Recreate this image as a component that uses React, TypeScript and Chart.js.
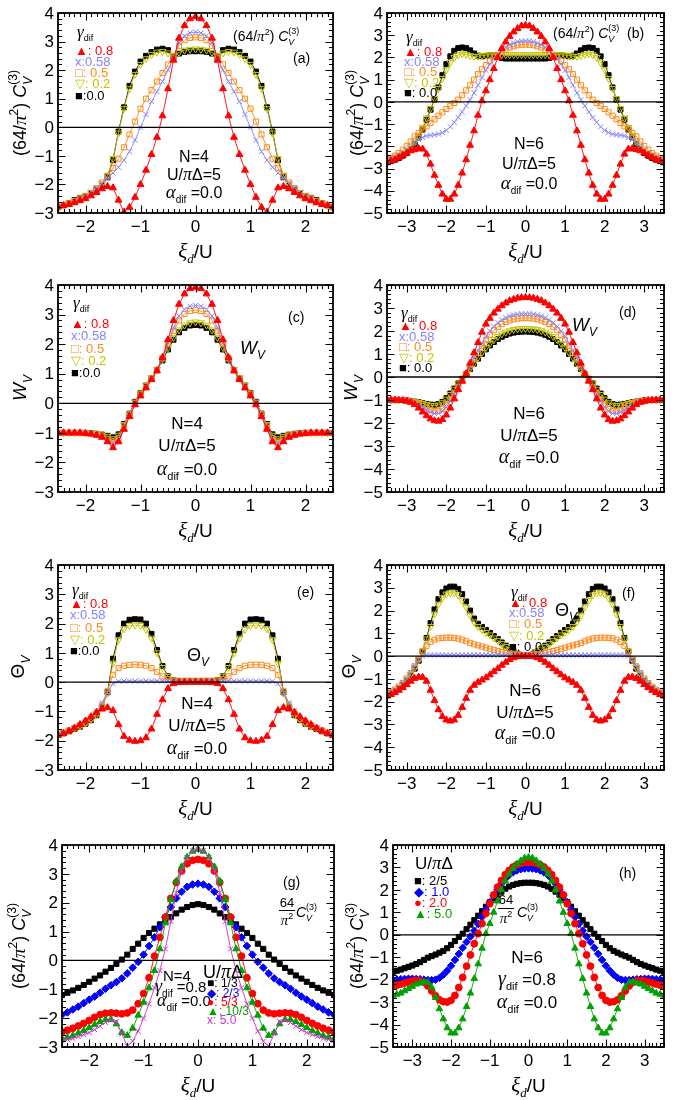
import React, { useEffect, useRef } from "react";
import { Chart, registerables } from "chart.js";

Chart.register(...registerables);

// ---------- abscissae: xi_d / U ----------
const XI_N4 = [-2.5, -2.4, -2.3, -2.2, -2.1, -2.0, -1.9, -1.8, -1.7, -1.6, -1.5, -1.4, -1.3, -1.2, -1.1, -1.0, -0.9, -0.8, -0.7, -0.6, -0.5, -0.4, -0.3, -0.2, -0.1, 0, 0.1, 0.2, 0.3, 0.4, 0.5, 0.6, 0.7, 0.8, 0.9, 1.0, 1.1, 1.2, 1.3, 1.4, 1.5, 1.6, 1.7, 1.8, 1.9, 2.0, 2.1, 2.2, 2.3, 2.4, 2.5];
const XI_N6 = [-3.5, -3.4, -3.3, -3.2, -3.1, -3.0, -2.9, -2.8, -2.7, -2.6, -2.5, -2.4, -2.3, -2.2, -2.1, -2.0, -1.9, -1.8, -1.7, -1.6, -1.5, -1.4, -1.3, -1.2, -1.1, -1.0, -0.9, -0.8, -0.7, -0.6, -0.5, -0.4, -0.3, -0.2, -0.1, 0, 0.1, 0.2, 0.3, 0.4, 0.5, 0.6, 0.7, 0.8, 0.9, 1.0, 1.1, 1.2, 1.3, 1.4, 1.5, 1.6, 1.7, 1.8, 1.9, 2.0, 2.1, 2.2, 2.3, 2.4, 2.5, 2.6, 2.7, 2.8, 2.9, 3.0, 3.1, 3.2, 3.3, 3.4, 3.5];

// ---------- tick labels ----------
const X_TICKS_N4 = [-2, -1, 0, 1, 2];
const X_TICKS_N6 = [-3, -2, -1, 0, 1, 2, 3];
const Y_TICKS_N4 = [-3, -2, -1, 0, 1, 2, 3, 4];
const Y_TICKS_N6 = [-5, -4, -3, -2, -1, 0, 1, 2, 3, 4];

// ---------- legend labels ----------
const GAMMA_ENTRIES_A = ["▲: 0.8", "x:0.58", "□: 0.5", "▽: 0.2", "■:0.0"];
const GAMMA_ENTRIES_B = ["▲: 0.8", "x:0.58", "□: 0.5", "▽: 0.2", "■: 0.0"];
const U_ENTRIES_G = ["■: 1/3", "◆: 2/3", "●: 5/3", "▲: 10/3", "x: 5.0"];
const U_ENTRIES_H = ["■: 2/5", "◆: 1.0", "●: 2.0", "▲: 5.0"];

// ---------- (64/pi^2) C_V^(3), N=4, U/piDelta=5, for gamma_dif ----------
const CV4_G080 = [-2.78, -2.74, -2.7, -2.64, -2.57, -2.5, -2.4, -2.28, -2.15, -2.07, -2.12, -2.55, -2.97, -2.8, -2.45, -2.0, -1.5, -0.95, -0.35, 0.4, 1.35, 2.35, 3.12, 3.56, 3.8, 3.87, 3.8, 3.56, 3.12, 2.35, 1.35, 0.4, -0.35, -0.95, -1.5, -2.0, -2.45, -2.8, -2.97, -2.55, -2.12, -2.07, -2.15, -2.28, -2.4, -2.5, -2.57, -2.64, -2.7, -2.74, -2.78];
const CV4_G058 = [-2.8, -2.74, -2.68, -2.6, -2.5, -2.4, -2.27, -2.12, -1.95, -1.78, -1.6, -1.4, -1.15, -0.85, -0.45, 0.0, 0.45, 0.9, 1.25, 1.6, 2.0, 2.42, 2.95, 3.2, 3.3, 3.33, 3.3, 3.2, 2.95, 2.42, 2.0, 1.6, 1.25, 0.9, 0.45, 0.0, -0.45, -0.85, -1.15, -1.4, -1.6, -1.78, -1.95, -2.12, -2.27, -2.4, -2.5, -2.6, -2.68, -2.74, -2.8];
const CV4_G050 = [-2.78, -2.72, -2.65, -2.58, -2.5, -2.42, -2.3, -2.13, -1.93, -1.7, -1.42, -1.1, -0.7, -0.25, 0.2, 0.65, 1.0, 1.3, 1.6, 1.9, 2.2, 2.5, 2.85, 3.05, 3.13, 3.15, 3.13, 3.05, 2.85, 2.5, 2.2, 1.9, 1.6, 1.3, 1.0, 0.65, 0.2, -0.25, -0.7, -1.1, -1.42, -1.7, -1.93, -2.13, -2.3, -2.42, -2.5, -2.58, -2.65, -2.72, -2.78];
const CV4_G020 = [-2.8, -2.73, -2.65, -2.56, -2.47, -2.38, -2.28, -2.15, -1.98, -1.68, -1.1, -0.2, 0.65, 1.35, 1.85, 2.2, 2.4, 2.55, 2.63, 2.65, 2.6, 2.5, 2.62, 2.7, 2.73, 2.74, 2.73, 2.7, 2.62, 2.5, 2.6, 2.65, 2.63, 2.55, 2.4, 2.2, 1.85, 1.35, 0.65, -0.2, -1.1, -1.68, -1.98, -2.15, -2.28, -2.38, -2.47, -2.56, -2.65, -2.73, -2.8];
const CV4_G000 = [-2.8, -2.73, -2.65, -2.55, -2.47, -2.42, -2.32, -2.2, -2.05, -1.75, -1.15, -0.15, 0.7, 1.45, 1.95, 2.3, 2.5, 2.63, 2.72, 2.75, 2.7, 2.45, 2.58, 2.64, 2.66, 2.66, 2.66, 2.64, 2.58, 2.45, 2.7, 2.75, 2.72, 2.63, 2.5, 2.3, 1.95, 1.45, 0.7, -0.15, -1.15, -1.75, -2.05, -2.2, -2.32, -2.42, -2.47, -2.55, -2.65, -2.73, -2.8];

// ---------- (64/pi^2) C_V^(3), N=6, U/piDelta=5 ----------
const CV6_G080 = [-2.7, -2.65, -2.6, -2.5, -2.4, -2.3, -2.2, -2.15, -2.1, -2.12, -2.35, -2.8, -3.3, -3.75, -4.15, -4.38, -4.38, -4.15, -3.75, -3.2, -2.6, -1.95, -1.3, -0.6, 0.05, 0.5, 1.0, 1.5, 2.0, 2.4, 2.7, 2.95, 3.15, 3.3, 3.42, 3.45, 3.42, 3.3, 3.15, 2.95, 2.7, 2.4, 2.0, 1.5, 1.0, 0.5, 0.05, -0.6, -1.3, -1.95, -2.6, -3.2, -3.75, -4.15, -4.38, -4.38, -4.15, -3.75, -3.3, -2.8, -2.35, -2.12, -2.1, -2.15, -2.2, -2.3, -2.4, -2.5, -2.6, -2.65, -2.7];
const CV6_G058 = [-2.6, -2.55, -2.48, -2.4, -2.3, -2.18, -2.02, -1.85, -1.7, -1.6, -1.53, -1.5, -1.48, -1.45, -1.38, -1.28, -1.12, -0.92, -0.7, -0.45, -0.18, 0.1, 0.4, 0.75, 1.1, 1.42, 1.7, 1.95, 2.12, 2.3, 2.45, 2.57, 2.65, 2.71, 2.74, 2.75, 2.74, 2.71, 2.65, 2.57, 2.45, 2.3, 2.12, 1.95, 1.7, 1.42, 1.1, 0.75, 0.4, 0.1, -0.18, -0.45, -0.7, -0.92, -1.12, -1.28, -1.38, -1.45, -1.48, -1.5, -1.53, -1.6, -1.7, -1.85, -2.02, -2.18, -2.3, -2.4, -2.48, -2.55, -2.6];
const CV6_G050 = [-2.6, -2.52, -2.42, -2.3, -2.15, -1.98, -1.78, -1.55, -1.4, -1.25, -1.1, -0.95, -0.78, -0.62, -0.47, -0.32, -0.18, -0.05, 0.1, 0.3, 0.52, 0.75, 1.0, 1.25, 1.47, 1.65, 1.83, 2.0, 2.12, 2.25, 2.35, 2.45, 2.5, 2.55, 2.57, 2.58, 2.57, 2.55, 2.5, 2.45, 2.35, 2.25, 2.12, 2.0, 1.83, 1.65, 1.47, 1.25, 1.0, 0.75, 0.52, 0.3, 0.1, -0.05, -0.18, -0.32, -0.47, -0.62, -0.78, -0.95, -1.1, -1.25, -1.4, -1.55, -1.78, -1.98, -2.15, -2.3, -2.42, -2.52, -2.6];
const CV6_G020 = [-2.6, -2.55, -2.48, -2.4, -2.3, -2.18, -2.02, -1.8, -1.5, -1.15, -0.72, -0.3, 0.15, 0.6, 1.05, 1.45, 1.78, 2.0, 2.12, 2.16, 2.14, 2.08, 2.05, 2.05, 2.08, 2.1, 2.12, 2.12, 2.12, 2.12, 2.12, 2.12, 2.12, 2.12, 2.12, 2.12, 2.12, 2.12, 2.12, 2.12, 2.12, 2.12, 2.12, 2.12, 2.12, 2.1, 2.08, 2.05, 2.05, 2.08, 2.14, 2.16, 2.12, 2.0, 1.78, 1.45, 1.05, 0.6, 0.15, -0.3, -0.72, -1.15, -1.5, -1.8, -2.02, -2.18, -2.3, -2.4, -2.48, -2.55, -2.6];
const CV6_G000 = [-2.72, -2.66, -2.6, -2.52, -2.42, -2.3, -2.12, -1.9, -1.6, -1.25, -0.8, -0.35, 0.1, 0.65, 1.2, 1.7, 2.05, 2.3, 2.42, 2.45, 2.42, 2.32, 2.18, 2.08, 2.05, 2.07, 2.1, 2.08, 2.02, 1.98, 1.95, 1.95, 1.95, 1.95, 1.95, 1.95, 1.95, 1.95, 1.95, 1.95, 1.95, 1.98, 2.02, 2.08, 2.1, 2.07, 2.05, 2.08, 2.18, 2.32, 2.42, 2.45, 2.42, 2.3, 2.05, 1.7, 1.2, 0.65, 0.1, -0.35, -0.8, -1.25, -1.6, -1.9, -2.12, -2.3, -2.42, -2.52, -2.6, -2.66, -2.72];

// ---------- W_V, N=4 ----------
const W4_G080 = [-1.0, -1.0, -1.0, -1.0, -1.0, -1.02, -1.04, -1.08, -1.15, -1.3, -1.5, -1.3, -0.88, -0.45, -0.05, 0.25, 0.52, 0.8, 1.1, 1.55, 2.15, 2.8, 3.35, 3.7, 3.88, 3.92, 3.88, 3.7, 3.35, 2.8, 2.15, 1.55, 1.1, 0.8, 0.52, 0.25, -0.05, -0.45, -0.88, -1.3, -1.5, -1.3, -1.15, -1.08, -1.04, -1.02, -1.0, -1.0, -1.0, -1.0, -1.0];
const W4_G058 = [-1.0, -1.0, -1.0, -1.0, -1.0, -1.01, -1.02, -1.06, -1.12, -1.23, -1.36, -1.22, -0.8, -0.4, -0.02, 0.28, 0.55, 0.82, 1.12, 1.53, 2.05, 2.55, 2.95, 3.18, 3.28, 3.31, 3.28, 3.18, 2.95, 2.55, 2.05, 1.53, 1.12, 0.82, 0.55, 0.28, -0.02, -0.4, -0.8, -1.22, -1.36, -1.23, -1.12, -1.06, -1.02, -1.01, -1.0, -1.0, -1.0, -1.0, -1.0];
const W4_G050 = [-1.0, -1.0, -1.0, -1.0, -1.0, -1.01, -1.02, -1.05, -1.1, -1.2, -1.3, -1.18, -0.78, -0.38, 0.0, 0.3, 0.57, 0.83, 1.12, 1.52, 2.0, 2.45, 2.8, 3.02, 3.12, 3.15, 3.12, 3.02, 2.8, 2.45, 2.0, 1.52, 1.12, 0.83, 0.57, 0.3, 0.0, -0.38, -0.78, -1.18, -1.3, -1.2, -1.1, -1.05, -1.02, -1.01, -1.0, -1.0, -1.0, -1.0, -1.0];
const W4_G020 = [-1.0, -1.0, -1.0, -1.0, -1.0, -1.0, -1.01, -1.03, -1.07, -1.12, -1.2, -1.08, -0.72, -0.36, 0.04, 0.35, 0.61, 0.87, 1.15, 1.5, 1.88, 2.22, 2.48, 2.64, 2.72, 2.75, 2.72, 2.64, 2.48, 2.22, 1.88, 1.5, 1.15, 0.87, 0.61, 0.35, 0.04, -0.36, -0.72, -1.08, -1.2, -1.12, -1.07, -1.03, -1.01, -1.0, -1.0, -1.0, -1.0, -1.0, -1.0];
const W4_G000 = [-1.0, -1.0, -1.0, -1.0, -1.0, -1.0, -1.01, -1.03, -1.06, -1.1, -1.15, -1.05, -0.7, -0.35, 0.05, 0.35, 0.6, 0.85, 1.12, 1.45, 1.82, 2.15, 2.4, 2.55, 2.63, 2.65, 2.63, 2.55, 2.4, 2.15, 1.82, 1.45, 1.12, 0.85, 0.6, 0.35, 0.05, -0.35, -0.7, -1.05, -1.15, -1.1, -1.06, -1.03, -1.01, -1.0, -1.0, -1.0, -1.0, -1.0, -1.0];

// ---------- W_V, N=6 ----------
const W6_G080 = [-1.0, -1.0, -1.0, -1.01, -1.02, -1.05, -1.1, -1.2, -1.35, -1.52, -1.68, -1.82, -1.9, -1.92, -1.85, -1.65, -1.35, -0.95, -0.55, -0.18, 0.15, 0.6, 1.05, 1.5, 1.95, 2.3, 2.55, 2.78, 2.95, 3.1, 3.22, 3.32, 3.38, 3.43, 3.45, 3.46, 3.45, 3.43, 3.38, 3.32, 3.22, 3.1, 2.95, 2.78, 2.55, 2.3, 1.95, 1.5, 1.05, 0.6, 0.15, -0.18, -0.55, -0.95, -1.35, -1.65, -1.85, -1.92, -1.9, -1.82, -1.68, -1.52, -1.35, -1.2, -1.1, -1.05, -1.02, -1.01, -1.0, -1.0, -1.0];
const W6_G058 = [-1.0, -1.0, -1.0, -1.0, -1.0, -1.03, -1.07, -1.13, -1.22, -1.32, -1.43, -1.53, -1.59, -1.58, -1.48, -1.3, -1.05, -0.76, -0.46, -0.15, 0.15, 0.48, 0.82, 1.15, 1.47, 1.76, 2.0, 2.2, 2.36, 2.48, 2.58, 2.65, 2.7, 2.73, 2.75, 2.75, 2.75, 2.73, 2.7, 2.65, 2.58, 2.48, 2.36, 2.2, 2.0, 1.76, 1.47, 1.15, 0.82, 0.48, 0.15, -0.15, -0.46, -0.76, -1.05, -1.3, -1.48, -1.58, -1.59, -1.53, -1.43, -1.32, -1.22, -1.13, -1.07, -1.03, -1.0, -1.0, -1.0, -1.0, -1.0];
const W6_G050 = [-1.0, -1.0, -1.0, -1.0, -1.0, -1.03, -1.06, -1.11, -1.18, -1.26, -1.35, -1.43, -1.48, -1.47, -1.38, -1.2, -0.97, -0.7, -0.42, -0.14, 0.14, 0.45, 0.76, 1.06, 1.35, 1.62, 1.84, 2.03, 2.18, 2.3, 2.39, 2.46, 2.51, 2.54, 2.56, 2.56, 2.56, 2.54, 2.51, 2.46, 2.39, 2.3, 2.18, 2.03, 1.84, 1.62, 1.35, 1.06, 0.76, 0.45, 0.14, -0.14, -0.42, -0.7, -0.97, -1.2, -1.38, -1.47, -1.48, -1.43, -1.35, -1.26, -1.18, -1.11, -1.06, -1.03, -1.0, -1.0, -1.0, -1.0, -1.0];
const W6_G020 = [-1.0, -1.0, -1.0, -1.0, -1.0, -1.02, -1.04, -1.07, -1.11, -1.15, -1.19, -1.23, -1.25, -1.22, -1.12, -0.96, -0.76, -0.53, -0.3, -0.09, 0.13, 0.37, 0.61, 0.85, 1.07, 1.28, 1.46, 1.62, 1.76, 1.87, 1.95, 2.01, 2.06, 2.09, 2.1, 2.11, 2.1, 2.09, 2.06, 2.01, 1.95, 1.87, 1.76, 1.62, 1.46, 1.28, 1.07, 0.85, 0.61, 0.37, 0.13, -0.09, -0.3, -0.53, -0.76, -0.96, -1.12, -1.22, -1.25, -1.23, -1.19, -1.15, -1.11, -1.07, -1.04, -1.02, -1.0, -1.0, -1.0, -1.0, -1.0];
const W6_G000 = [-1.0, -1.0, -1.0, -1.0, -1.0, -1.02, -1.04, -1.07, -1.1, -1.14, -1.17, -1.2, -1.21, -1.18, -1.08, -0.92, -0.72, -0.5, -0.28, -0.08, 0.12, 0.35, 0.58, 0.8, 1.0, 1.2, 1.37, 1.52, 1.65, 1.75, 1.83, 1.89, 1.93, 1.96, 1.97, 1.98, 1.97, 1.96, 1.93, 1.89, 1.83, 1.75, 1.65, 1.52, 1.37, 1.2, 1.0, 0.8, 0.58, 0.35, 0.12, -0.08, -0.28, -0.5, -0.72, -0.92, -1.08, -1.18, -1.21, -1.2, -1.17, -1.14, -1.1, -1.07, -1.04, -1.02, -1.0, -1.0, -1.0, -1.0, -1.0];

// ---------- Theta_V, N=4 ----------
const TH4_G080 = [-1.82, -1.75, -1.67, -1.57, -1.45, -1.32, -1.18, -1.03, -0.92, -0.87, -0.97, -1.45, -1.85, -1.98, -2.02, -2.0, -1.9, -1.6, -1.1, -0.6, -0.22, -0.05, -0.01, 0, 0, 0, 0, 0, -0.01, -0.05, -0.22, -0.6, -1.1, -1.6, -1.9, -2.0, -2.02, -1.98, -1.85, -1.45, -0.97, -0.87, -0.92, -1.03, -1.18, -1.32, -1.45, -1.57, -1.67, -1.75, -1.82];
const TH4_G058 = [-1.78, -1.72, -1.64, -1.55, -1.45, -1.33, -1.18, -0.98, -0.7, -0.35, -0.05, 0.03, 0.04, 0.04, 0.04, 0.04, 0.04, 0.04, 0.04, 0.04, 0.04, 0.04, 0.04, 0.04, 0.04, 0.04, 0.04, 0.04, 0.04, 0.04, 0.04, 0.04, 0.04, 0.04, 0.04, 0.04, 0.04, 0.04, 0.04, 0.03, -0.05, -0.35, -0.7, -0.98, -1.18, -1.33, -1.45, -1.55, -1.64, -1.72, -1.78];
const TH4_G050 = [-1.78, -1.72, -1.65, -1.57, -1.48, -1.38, -1.25, -1.07, -0.78, -0.3, 0.25, 0.48, 0.56, 0.59, 0.6, 0.59, 0.56, 0.48, 0.35, 0.2, 0.1, 0.06, 0.05, 0.05, 0.05, 0.05, 0.05, 0.05, 0.05, 0.06, 0.1, 0.2, 0.35, 0.48, 0.56, 0.59, 0.6, 0.59, 0.56, 0.48, 0.25, -0.3, -0.78, -1.07, -1.25, -1.38, -1.48, -1.57, -1.65, -1.72, -1.78];
const TH4_G020 = [-1.78, -1.72, -1.65, -1.57, -1.49, -1.4, -1.28, -1.12, -0.85, -0.38, 0.65, 1.45, 1.82, 1.93, 1.95, 1.93, 1.8, 1.5, 1.0, 0.5, 0.2, 0.07, 0.04, 0.03, 0.03, 0.03, 0.03, 0.03, 0.04, 0.07, 0.2, 0.5, 1.0, 1.5, 1.8, 1.93, 1.95, 1.93, 1.82, 1.45, 0.65, -0.38, -0.85, -1.12, -1.28, -1.4, -1.49, -1.57, -1.65, -1.72, -1.78];
const TH4_G000 = [-1.8, -1.75, -1.68, -1.6, -1.52, -1.42, -1.3, -1.13, -0.85, -0.35, 0.8, 1.6, 2.0, 2.13, 2.15, 2.14, 2.0, 1.65, 1.1, 0.55, 0.2, 0.07, 0.03, 0.02, 0.02, 0.02, 0.02, 0.02, 0.03, 0.07, 0.2, 0.55, 1.1, 1.65, 2.0, 2.14, 2.15, 2.13, 2.0, 1.6, 0.8, -0.35, -0.85, -1.13, -1.3, -1.42, -1.52, -1.6, -1.68, -1.75, -1.8];

// ---------- Theta_V, N=6 ----------
const TH6_G080 = [-1.75, -1.68, -1.6, -1.5, -1.38, -1.25, -1.1, -0.98, -0.92, -0.93, -1.1, -1.5, -1.95, -2.35, -2.65, -2.8, -2.85, -2.8, -2.6, -2.25, -1.85, -1.5, -1.28, -1.15, -1.05, -0.95, -0.82, -0.68, -0.55, -0.4, -0.27, -0.15, -0.07, -0.02, 0, 0, 0, -0.02, -0.07, -0.15, -0.27, -0.4, -0.55, -0.68, -0.82, -0.95, -1.05, -1.15, -1.28, -1.5, -1.85, -2.25, -2.6, -2.8, -2.85, -2.8, -2.65, -2.35, -1.95, -1.5, -1.1, -0.93, -0.92, -0.98, -1.1, -1.25, -1.38, -1.5, -1.6, -1.68, -1.75];
const TH6_G058 = [-1.65, -1.57, -1.47, -1.34, -1.18, -0.98, -0.72, -0.42, -0.15, 0.0, 0.05, 0.05, 0.05, 0.05, 0.05, 0.05, 0.05, 0.05, 0.05, 0.05, 0.05, 0.05, 0.05, 0.05, 0.05, 0.05, 0.05, 0.05, 0.05, 0.05, 0.05, 0.05, 0.05, 0.05, 0.05, 0.05, 0.05, 0.05, 0.05, 0.05, 0.05, 0.05, 0.05, 0.05, 0.05, 0.05, 0.05, 0.05, 0.05, 0.05, 0.05, 0.05, 0.05, 0.05, 0.05, 0.05, 0.05, 0.05, 0.05, 0.05, 0.05, 0.0, -0.15, -0.42, -0.72, -0.98, -1.18, -1.34, -1.47, -1.57, -1.65];
const TH6_G050 = [-1.65, -1.57, -1.47, -1.34, -1.18, -0.98, -0.75, -0.45, -0.12, 0.2, 0.45, 0.62, 0.72, 0.78, 0.8, 0.81, 0.81, 0.8, 0.77, 0.72, 0.65, 0.58, 0.52, 0.47, 0.42, 0.37, 0.32, 0.27, 0.22, 0.18, 0.14, 0.1, 0.07, 0.05, 0.04, 0.04, 0.04, 0.05, 0.07, 0.1, 0.14, 0.18, 0.22, 0.27, 0.32, 0.37, 0.42, 0.47, 0.52, 0.58, 0.65, 0.72, 0.77, 0.8, 0.81, 0.81, 0.8, 0.78, 0.72, 0.62, 0.45, 0.2, -0.12, -0.45, -0.75, -0.98, -1.18, -1.34, -1.47, -1.57, -1.65];
const TH6_G020 = [-1.68, -1.6, -1.5, -1.38, -1.22, -1.04, -0.8, -0.5, -0.15, 0.22, 0.75, 1.3, 1.85, 2.28, 2.56, 2.72, 2.78, 2.78, 2.68, 2.45, 2.15, 1.8, 1.5, 1.3, 1.16, 1.04, 0.93, 0.8, 0.68, 0.55, 0.42, 0.3, 0.19, 0.1, 0.05, 0.03, 0.05, 0.1, 0.19, 0.3, 0.42, 0.55, 0.68, 0.8, 0.93, 1.04, 1.16, 1.3, 1.5, 1.8, 2.15, 2.45, 2.68, 2.78, 2.78, 2.72, 2.56, 2.28, 1.85, 1.3, 0.75, 0.22, -0.15, -0.5, -0.8, -1.04, -1.22, -1.38, -1.5, -1.6, -1.68];
const TH6_G000 = [-1.72, -1.65, -1.55, -1.42, -1.27, -1.1, -0.85, -0.55, -0.2, 0.2, 0.8, 1.45, 2.05, 2.5, 2.8, 2.97, 3.05, 3.05, 2.95, 2.72, 2.4, 2.0, 1.65, 1.42, 1.28, 1.15, 1.02, 0.88, 0.75, 0.6, 0.46, 0.33, 0.2, 0.1, 0.04, 0.02, 0.04, 0.1, 0.2, 0.33, 0.46, 0.6, 0.75, 0.88, 1.02, 1.15, 1.28, 1.42, 1.65, 2.0, 2.4, 2.72, 2.95, 3.05, 3.05, 2.97, 2.8, 2.5, 2.05, 1.45, 0.8, 0.2, -0.2, -0.55, -0.85, -1.1, -1.27, -1.42, -1.55, -1.65, -1.72];

// ---------- (64/pi^2) C_V^(3), N=4, gamma_dif=0.8, for U/piDelta (5.0 is CV4_G080) ----------
const CV4_U13 = [-1.2, -1.12, -1.04, -0.95, -0.85, -0.74, -0.63, -0.52, -0.39, -0.26, -0.12, 0.03, 0.2, 0.4, 0.58, 0.78, 0.95, 1.1, 1.25, 1.38, 1.5, 1.63, 1.76, 1.85, 1.92, 1.95, 1.92, 1.85, 1.76, 1.63, 1.5, 1.38, 1.25, 1.1, 0.95, 0.78, 0.58, 0.4, 0.2, 0.03, -0.12, -0.26, -0.39, -0.52, -0.63, -0.74, -0.85, -0.95, -1.04, -1.12, -1.2];
const CV4_U23 = [-1.88, -1.8, -1.7, -1.6, -1.48, -1.36, -1.25, -1.12, -0.98, -0.86, -0.75, -0.62, -0.45, -0.25, -0.05, 0.2, 0.5, 0.8, 1.15, 1.5, 1.85, 2.15, 2.38, 2.55, 2.63, 2.66, 2.63, 2.55, 2.38, 2.15, 1.85, 1.5, 1.15, 0.8, 0.5, 0.2, -0.05, -0.25, -0.45, -0.62, -0.75, -0.86, -0.98, -1.12, -1.25, -1.36, -1.48, -1.6, -1.7, -1.8, -1.88];
const CV4_U53 = [-2.48, -2.42, -2.35, -2.27, -2.18, -2.08, -1.97, -1.88, -1.83, -1.82, -1.83, -1.85, -1.82, -1.72, -1.5, -1.15, -0.6, 0.15, 0.8, 1.5, 2.15, 2.7, 3.1, 3.35, 3.47, 3.5, 3.47, 3.35, 3.1, 2.7, 2.15, 1.5, 0.8, 0.15, -0.6, -1.15, -1.5, -1.72, -1.82, -1.85, -1.83, -1.82, -1.83, -1.88, -1.97, -2.08, -2.18, -2.27, -2.35, -2.42, -2.48];
const CV4_U103 = [-2.72, -2.66, -2.6, -2.52, -2.43, -2.33, -2.22, -2.12, -2.05, -2.05, -2.2, -2.5, -2.6, -2.35, -1.9, -1.45, -0.95, -0.35, 0.4, 1.3, 2.1, 2.75, 3.25, 3.58, 3.78, 3.85, 3.78, 3.58, 3.25, 2.75, 2.1, 1.3, 0.4, -0.35, -0.95, -1.45, -1.9, -2.35, -2.6, -2.5, -2.2, -2.05, -2.05, -2.12, -2.22, -2.33, -2.43, -2.52, -2.6, -2.66, -2.72];

// ---------- (64/pi^2) C_V^(3), N=6, gamma_dif=0.8, for U/piDelta (5.0 is CV6_G080) ----------
const CV6_U25 = [-1.65, -1.6, -1.55, -1.49, -1.43, -1.37, -1.3, -1.22, -1.12, -1.02, -0.95, -0.88, -0.8, -0.72, -0.6, -0.45, -0.28, -0.1, 0.05, 0.25, 0.45, 0.65, 0.85, 1.05, 1.25, 1.45, 1.62, 1.78, 1.92, 2.05, 2.15, 2.22, 2.27, 2.3, 2.32, 2.32, 2.32, 2.3, 2.27, 2.22, 2.15, 2.05, 1.92, 1.78, 1.62, 1.45, 1.25, 1.05, 0.85, 0.65, 0.45, 0.25, 0.05, -0.1, -0.28, -0.45, -0.6, -0.72, -0.8, -0.88, -0.95, -1.02, -1.12, -1.22, -1.3, -1.37, -1.43, -1.49, -1.55, -1.6, -1.65];
const CV6_U10 = [-2.0, -2.0, -1.98, -1.97, -1.96, -1.96, -1.97, -1.98, -2.0, -2.02, -2.02, -2.0, -1.92, -1.78, -1.6, -1.38, -1.12, -0.85, -0.58, -0.32, -0.08, 0.18, 0.48, 0.8, 1.12, 1.45, 1.75, 2.02, 2.28, 2.5, 2.66, 2.78, 2.87, 2.92, 2.95, 2.96, 2.95, 2.92, 2.87, 2.78, 2.66, 2.5, 2.28, 2.02, 1.75, 1.45, 1.12, 0.8, 0.48, 0.18, -0.08, -0.32, -0.58, -0.85, -1.12, -1.38, -1.6, -1.78, -1.92, -2.0, -2.02, -2.02, -2.0, -1.98, -1.97, -1.96, -1.96, -1.97, -1.98, -2.0, -2.0];
const CV6_U20 = [-2.3, -2.25, -2.2, -2.15, -2.1, -2.06, -2.04, -2.05, -2.12, -2.28, -2.5, -2.72, -2.9, -2.98, -3.0, -2.92, -2.7, -2.35, -1.9, -1.4, -0.9, -0.4, 0.05, 0.5, 0.95, 1.38, 1.78, 2.12, 2.42, 2.68, 2.87, 3.02, 3.12, 3.18, 3.22, 3.23, 3.22, 3.18, 3.12, 3.02, 2.87, 2.68, 2.42, 2.12, 1.78, 1.38, 0.95, 0.5, 0.05, -0.4, -0.9, -1.4, -1.9, -2.35, -2.7, -2.92, -3.0, -2.98, -2.9, -2.72, -2.5, -2.28, -2.12, -2.05, -2.04, -2.06, -2.1, -2.15, -2.2, -2.25, -2.3];

// ---------- styles ----------
type Marker = { color: string; style: string; rot?: number; fill: boolean; r: number };
const M_RED: Marker = { color: "#ff0000", style: "triangle", fill: true, r: 4 };
const M_LAV: Marker = { color: "#8484ff", style: "crossRot", fill: false, r: 3.6 };
const M_ORA: Marker = { color: "#ff8a1c", style: "rect", fill: false, r: 3.6 };
const M_YEL: Marker = { color: "#c4c400", style: "triangle", rot: 180, fill: false, r: 4 };
const M_BLK: Marker = { color: "#000000", style: "rect", fill: true, r: 3.5 };
const M_BLK2: Marker = { color: "#000000", style: "rect", fill: true, r: 3.6 };
const M_BLU2: Marker = { color: "#0000ff", style: "rectRot", fill: true, r: 3.8 };
const M_RED2: Marker = { color: "#ff0000", style: "circle", fill: true, r: 3.4 };
const M_GRN2: Marker = { color: "#00a000", style: "triangle", fill: true, r: 3.8 };
const M_MAG2: Marker = { color: "#cc33cc", style: "crossRot", fill: false, r: 3.6 };
const GAMMA_COLORS = [M_RED.color, M_LAV.color, M_ORA.color, M_YEL.color, M_BLK.color];

// ---------- text helpers ----------
const SANS = '"Liberation Sans", Arial, Helvetica, sans-serif';
const SERIF = '"Liberation Serif", "DejaVu Serif", serif';
const fs = (px: number, st = "") => `${st} ${px}px ${SANS}`.trim();
const fi = (px: number) => `italic ${px}px ${SERIF}`;

type Seg = { t: string; f: string; dy?: number; c?: string; under?: Seg };

function segsWidth(ctx: CanvasRenderingContext2D, segs: Seg[]) {
  let w = 0;
  for (const s of segs) {
    ctx.font = s.f;
    let sw = ctx.measureText(s.t).width;
    if (s.under) {
      ctx.font = s.under.f;
      sw = Math.max(sw, ctx.measureText(s.under.t).width);
    }
    w += sw;
  }
  return w;
}

function drawRich(ctx: CanvasRenderingContext2D, segs: Seg[], x: number, y: number, align = "left", color = "#000") {
  const w = segsWidth(ctx, segs);
  let cx = align === "center" ? x - w / 2 : align === "right" ? x - w : x;
  ctx.textAlign = "left";
  ctx.textBaseline = "alphabetic";
  for (const s of segs) {
    ctx.font = s.f;
    ctx.fillStyle = s.c || color;
    ctx.fillText(s.t, cx, y + (s.dy || 0));
    let sw = ctx.measureText(s.t).width;
    if (s.under) {
      ctx.font = s.under.f;
      ctx.fillStyle = s.under.c || color;
      ctx.fillText(s.under.t, cx, y + (s.under.dy || 0));
      sw = Math.max(sw, ctx.measureText(s.under.t).width);
    }
    cx += sw;
  }
}

const sub = (t: string, px: number, italic = false): Seg => ({ t, f: fs(Math.round(px * 0.64), italic ? "italic" : ""), dy: px * 0.3 });
const gammaDif = (px: number): Seg[] => [{ t: "γ", f: fi(Math.round(px * 1.2)) }, sub("dif", px)];
const alphaDif = (px: number): Seg[] => [{ t: "α", f: fi(Math.round(px * 1.2)) }, sub("dif", px)];
const cv3 = (px: number): Seg[] => [
  { t: "C", f: fs(px, "italic") },
  { t: "(3)", f: fs(Math.round(px * 0.64)), dy: -px * 0.5, under: { t: "V", f: fs(Math.round(px * 0.64), "italic"), dy: px * 0.32 } },
];
const pref = (px: number): Seg[] => [
  { t: "(64/", f: fs(px) },
  { t: "π", f: fi(Math.round(px * 1.08)) },
  { t: "2", f: fs(Math.round(px * 0.64)), dy: -px * 0.45 },
  { t: ") ", f: fs(px) },
];
const uPiDelta = (px: number, tail: string): Seg[] => [{ t: "U/", f: fs(px) }, { t: "π", f: fi(Math.round(px * 1.1)) }, { t: "Δ" + tail, f: fs(px) }];
const wV = (px: number): Seg[] => [{ t: "W", f: fs(px, "italic") }, sub("V", px, true)];
const thV = (px: number): Seg[] => [{ t: "Θ", f: fs(px) }, sub("V", px, true)];
const txt = (t: string, px: number): Seg[] => [{ t, f: fs(px) }];
const X_TITLE: Seg[] = [{ t: "ξ", f: fi(21) }, { t: "d", f: fi(13), dy: 5 }, { t: "/U", f: fs(19) }];

function gammaBlock(ctx: CanvasRenderingContext2D, x: number, head: number, bases: number[], entries: string[]) {
  drawRich(ctx, gammaDif(14), x + 2, head);
  entries.forEach((e, i) => drawRich(ctx, txt(e, 13), x, bases[i], "left", GAMMA_COLORS[i]));
}

function params(ctx: CanvasRenderingContext2D, cx: number, bases: number[], lines: Seg[][]) {
  lines.forEach((l, i) => drawRich(ctx, l, cx, bases[i], "center"));
}

function fraction(ctx: CanvasRenderingContext2D, cx: number, yTop: number, barY: number, yBot: number, cvX: number, cvY: number) {
  drawRich(ctx, txt("64", 13), cx, yTop, "center");
  ctx.strokeStyle = "#000";
  ctx.lineWidth = 1;
  ctx.beginPath();
  ctx.moveTo(cx - 8, barY + 0.5);
  ctx.lineTo(cx + 8, barY + 0.5);
  ctx.stroke();
  drawRich(ctx, [{ t: "π", f: fi(15) }, { t: "2", f: fs(9), dy: -6 }], cx, yBot, "center");
  drawRich(ctx, cv3(14), cvX, cvY);
}

const fmtTick = (v: number) => (v < 0 ? "\u2212" + Math.abs(v) : String(v));

// ---------- panels ----------
type PanelCfg = {
  key: string;
  box: [number, number, number, number];
  frame: [number, number, number, number];
  xs: number[];
  xRange: [number, number];
  yRange: [number, number];
  xTicks: number[];
  yTicks: number[];
  series: { y: number[]; m: Marker }[];
  yTitle: Seg[];
  yTitleAt: [number, number];
  decorate: (ctx: CanvasRenderingContext2D) => void;
};

const CV_TITLE = [...pref(18), ...cv3(18)];

const PANELS: PanelCfg[] = [
  {
    key: "a", box: [0, 0, 342, 272], frame: [58, 13, 333, 213], xs: XI_N4, xRange: [-2.5, 2.5], yRange: [-3, 4],
    xTicks: X_TICKS_N4, yTicks: Y_TICKS_N4,
    series: [{ y: CV4_G080, m: M_RED }, { y: CV4_G058, m: M_LAV }, { y: CV4_G050, m: M_ORA }, { y: CV4_G020, m: M_YEL }, { y: CV4_G000, m: M_BLK }],
    yTitle: CV_TITLE, yTitleAt: [20, 113],
    decorate: (ctx) => {
      gammaBlock(ctx, 75, 37, [55, 66, 77, 88, 100], GAMMA_ENTRIES_A);
      drawRich(ctx, [...pref(14), ...cv3(14)], 233, 41);
      drawRich(ctx, txt("(a)", 14), 293, 63);
      params(ctx, 194, [162, 180, 198], [txt("N=4", 16), uPiDelta(16, "=5"), [...alphaDif(16), { t: " =0.0", f: fs(16) }]]);
    },
  },
  {
    key: "b", box: [342, 0, 342, 272], frame: [387, 13, 664, 213], xs: XI_N6, xRange: [-3.5, 3.5], yRange: [-5, 4],
    xTicks: X_TICKS_N6, yTicks: Y_TICKS_N6,
    series: [{ y: CV6_G080, m: M_RED }, { y: CV6_G058, m: M_LAV }, { y: CV6_G050, m: M_ORA }, { y: CV6_G020, m: M_YEL }, { y: CV6_G000, m: M_BLK }],
    yTitle: CV_TITLE, yTitleAt: [357, 113],
    decorate: (ctx) => {
      gammaBlock(ctx, 404, 42, [56, 66, 76, 87, 97], GAMMA_ENTRIES_B);
      drawRich(ctx, [...pref(14), ...cv3(14)], 553, 38);
      drawRich(ctx, txt("(b)", 14), 627, 38);
      params(ctx, 529, [149, 169, 189], [txt("N=6", 16), uPiDelta(16, "=5"), [...alphaDif(16), { t: " =0.0", f: fs(16) }]]);
    },
  },
  {
    key: "c", box: [0, 272, 342, 280], frame: [58, 285, 333, 492], xs: XI_N4, xRange: [-2.5, 2.5], yRange: [-3, 4],
    xTicks: X_TICKS_N4, yTicks: Y_TICKS_N4,
    series: [{ y: W4_G080, m: M_RED }, { y: W4_G058, m: M_LAV }, { y: W4_G050, m: M_ORA }, { y: W4_G020, m: M_YEL }, { y: W4_G000, m: M_BLK }],
    yTitle: wV(19), yTitleAt: [20, 388],
    decorate: (ctx) => {
      gammaBlock(ctx, 71, 308, [328, 340, 353, 365, 377], GAMMA_ENTRIES_A);
      drawRich(ctx, txt("(c)", 14), 288, 322);
      drawRich(ctx, wV(18), 240, 354);
      params(ctx, 187, [429, 451, 475], [txt("N=4", 17), uPiDelta(17, "=5"), [...alphaDif(17), { t: " =0.0", f: fs(17) }]]);
    },
  },
  {
    key: "d", box: [342, 272, 342, 280], frame: [387, 285, 664, 492], xs: XI_N6, xRange: [-3.5, 3.5], yRange: [-5, 4],
    xTicks: X_TICKS_N6, yTicks: Y_TICKS_N6,
    series: [{ y: W6_G080, m: M_RED }, { y: W6_G058, m: M_LAV }, { y: W6_G050, m: M_ORA }, { y: W6_G020, m: M_YEL }, { y: W6_G000, m: M_BLK }],
    yTitle: wV(19), yTitleAt: [351, 388],
    decorate: (ctx) => {
      gammaBlock(ctx, 399, 318, [330, 341, 351, 362, 372], GAMMA_ENTRIES_B);
      drawRich(ctx, txt("(d)", 14), 619, 317);
      drawRich(ctx, wV(18), 572, 331);
      params(ctx, 529, [419, 441, 463], [txt("N=6", 17), uPiDelta(17, "=5"), [...alphaDif(17), { t: " =0.0", f: fs(17) }]]);
    },
  },
  {
    key: "e", box: [0, 552, 342, 280], frame: [58, 565, 333, 770], xs: XI_N4, xRange: [-2.5, 2.5], yRange: [-3, 4],
    xTicks: X_TICKS_N4, yTicks: Y_TICKS_N4,
    series: [{ y: TH4_G080, m: M_RED }, { y: TH4_G058, m: M_LAV }, { y: TH4_G050, m: M_ORA }, { y: TH4_G020, m: M_YEL }, { y: TH4_G000, m: M_BLK }],
    yTitle: thV(19), yTitleAt: [18, 667],
    decorate: (ctx) => {
      gammaBlock(ctx, 70, 595, [608, 619, 632, 644, 655], GAMMA_ENTRIES_A);
      drawRich(ctx, txt("(e)", 14), 297, 597);
      drawRich(ctx, thV(18), 187, 661);
      params(ctx, 197, [709, 731, 754], [txt("N=4", 17), uPiDelta(17, "=5"), [...alphaDif(17), { t: " =0.0", f: fs(17) }]]);
    },
  },
  {
    key: "f", box: [342, 552, 342, 280], frame: [387, 565, 664, 770], xs: XI_N6, xRange: [-3.5, 3.5], yRange: [-5, 4],
    xTicks: X_TICKS_N6, yTicks: Y_TICKS_N6,
    series: [{ y: TH6_G080, m: M_RED }, { y: TH6_G058, m: M_LAV }, { y: TH6_G050, m: M_ORA }, { y: TH6_G020, m: M_YEL }, { y: TH6_G000, m: M_BLK }],
    yTitle: thV(19), yTitleAt: [349, 667],
    decorate: (ctx) => {
      gammaBlock(ctx, 509, 597, [607, 617, 628, 640, 651], GAMMA_ENTRIES_B);
      drawRich(ctx, txt("(f)", 14), 622, 598);
      drawRich(ctx, thV(18), 555, 616);
      params(ctx, 525, [696, 718, 739], [txt("N=6", 17), uPiDelta(17, "=5"), [...alphaDif(17), { t: " =0.0", f: fs(17) }]]);
    },
  },
  {
    key: "g", box: [0, 832, 342, 268], frame: [62, 845, 334, 1047], xs: XI_N4, xRange: [-2.5, 2.5], yRange: [-3, 4],
    xTicks: X_TICKS_N4, yTicks: Y_TICKS_N4,
    series: [{ y: CV4_G080, m: M_MAG2 }, { y: CV4_U103, m: M_GRN2 }, { y: CV4_U53, m: M_RED2 }, { y: CV4_U23, m: M_BLU2 }, { y: CV4_U13, m: M_BLK2 }],
    yTitle: CV_TITLE, yTitleAt: [19, 946],
    decorate: (ctx) => {
      drawRich(ctx, txt("(g)", 14), 283, 887);
      fraction(ctx, 287, 907, 910, 925, 296, 917);
      drawRich(ctx, txt("N=4", 15), 163, 981);
      drawRich(ctx, uPiDelta(18, ""), 203, 978);
      drawRich(ctx, [...gammaDif(15), { t: " =0.8", f: fs(15) }], 155, 992);
      drawRich(ctx, [...alphaDif(15), { t: " =0.0", f: fs(15) }], 157, 1006);
      const cols = [M_BLK2.color, M_BLU2.color, M_RED2.color, M_GRN2.color, M_MAG2.color];
      const bases = [987, 997, 1006, 1015, 1024];
      U_ENTRIES_G.forEach((e, i) => drawRich(ctx, txt(e, 12), 207, bases[i], "left", cols[i]));
    },
  },
  {
    key: "h", box: [342, 832, 342, 268], frame: [393, 845, 664, 1047], xs: XI_N6, xRange: [-3.5, 3.5], yRange: [-5, 4],
    xTicks: X_TICKS_N6, yTicks: Y_TICKS_N6,
    series: [{ y: CV6_G080, m: M_GRN2 }, { y: CV6_U20, m: M_RED2 }, { y: CV6_U10, m: M_BLU2 }, { y: CV6_U25, m: M_BLK2 }],
    yTitle: CV_TITLE, yTitleAt: [357, 946],
    decorate: (ctx) => {
      drawRich(ctx, uPiDelta(17, ""), 415, 869);
      const cols = [M_BLK2.color, M_BLU2.color, M_RED2.color, M_GRN2.color];
      const bases = [885, 896, 907, 918];
      U_ENTRIES_H.forEach((e, i) => drawRich(ctx, txt(e, 13), 414, bases[i], "left", cols[i]));
      drawRich(ctx, txt("(h)", 14), 619, 878);
      fraction(ctx, 506, 904, 908, 923, 517, 917);
      params(ctx, 527, [963, 985, 1008], [txt("N=6", 17), [...gammaDif(17), { t: " =0.8", f: fs(17) }], [...alphaDif(17), { t: " =0.0", f: fs(17) }]]);
    },
  },
];

function PanelChart({ cfg }: { cfg: PanelCfg }) {
  const ref = useRef<HTMLCanvasElement>(null);
  useEffect(() => {
    const canvas = ref.current;
    if (!canvas) return;
    const [bl, bt, bw, bh] = cfg.box;
    const [fl, ft, fr, fb] = cfg.frame;

    const decor = {
      id: "decor_" + cfg.key,
      afterDatasetsDraw(chart: any) {
        const { ctx, chartArea: a } = chart;
        const y0 = chart.scales.y.getPixelForValue(0);
        ctx.save();
        ctx.strokeStyle = "#000";
        ctx.lineWidth = 1.3;
        ctx.beginPath();
        ctx.moveTo(a.left, y0);
        ctx.lineTo(a.right, y0);
        ctx.stroke();
        ctx.restore();
      },
      afterDraw(chart: any) {
        const { ctx, chartArea: a } = chart;
        const sx = chart.scales.x;
        const sy = chart.scales.y;
        ctx.save();
        // frame
        ctx.strokeStyle = "#000";
        ctx.lineWidth = 1.8;
        ctx.strokeRect(a.left, a.top, a.right - a.left, a.bottom - a.top);
        // inward ticks on all four sides
        ctx.lineWidth = 1.1;
        ctx.beginPath();
        const [xa, xb] = cfg.xRange;
        for (let k = Math.ceil(xa * 10 - 1e-6); k <= Math.floor(xb * 10 + 1e-6); k++) {
          const px = Math.round(sx.getPixelForValue(k / 10)) + 0.5;
          const len = k % 10 === 0 ? 7.5 : 4;
          ctx.moveTo(px, a.bottom);
          ctx.lineTo(px, a.bottom - len);
          ctx.moveTo(px, a.top);
          ctx.lineTo(px, a.top + len);
        }
        const [ya, yb] = cfg.yRange;
        for (let k = Math.ceil(ya * 5 - 1e-6); k <= Math.floor(yb * 5 + 1e-6); k++) {
          const py = Math.round(sy.getPixelForValue(k / 5)) + 0.5;
          const len = k % 5 === 0 ? 7.5 : 4;
          ctx.moveTo(a.left, py);
          ctx.lineTo(a.left + len, py);
          ctx.moveTo(a.right, py);
          ctx.lineTo(a.right - len, py);
        }
        ctx.stroke();
        // tick labels
        ctx.fillStyle = "#000";
        ctx.font = fs(17);
        ctx.textAlign = "center";
        ctx.textBaseline = "top";
        cfg.xTicks.forEach((v) => ctx.fillText(fmtTick(v), sx.getPixelForValue(v), a.bottom + 6));
        ctx.textAlign = "right";
        ctx.textBaseline = "middle";
        cfg.yTicks.forEach((v) => ctx.fillText(fmtTick(v), a.left - 4, sy.getPixelForValue(v) + 1));
        // x title
        drawRich(ctx, X_TITLE, (a.left + a.right) / 2, a.bottom + 45, "center");
        // page coordinates from here on
        ctx.translate(-bl, -bt);
        const [tx, ty] = cfg.yTitleAt;
        ctx.save();
        ctx.translate(tx, ty);
        ctx.rotate(-Math.PI / 2);
        drawRich(ctx, cfg.yTitle, 0, 6, "center");
        ctx.restore();
        cfg.decorate(ctx);
        ctx.restore();
      },
    };

    const chart = new Chart(canvas, {
      type: "scatter",
      data: {
        datasets: cfg.series.map((s) => ({
          data: cfg.xs.map((x, i) => ({ x, y: s.y[i] })),
          showLine: true,
          borderColor: s.m.color,
          borderWidth: 0.9,
          pointStyle: s.m.style as any,
          pointRotation: s.m.rot || 0,
          pointRadius: s.m.r,
          pointBorderWidth: 1,
          pointBorderColor: s.m.color,
          pointBackgroundColor: s.m.fill ? s.m.color : "rgba(0,0,0,0)",
        })),
      },
      options: {
        animation: false,
        responsive: false,
        devicePixelRatio: 1,
        events: [],
        layout: { padding: { left: fl - bl, top: ft - bt, right: bl + bw - fr, bottom: bt + bh - fb } },
        scales: {
          x: { type: "linear", min: cfg.xRange[0], max: cfg.xRange[1], display: false },
          y: { type: "linear", min: cfg.yRange[0], max: cfg.yRange[1], display: false },
        },
        plugins: { legend: { display: false }, tooltip: { enabled: false } },
      },
      plugins: [decor],
    });
    return () => chart.destroy();
  }, [cfg]);

  const [bl, bt, bw, bh] = cfg.box;
  return (
    <canvas
      ref={ref}
      width={bw}
      height={bh}
      style={{ position: "absolute", left: bl, top: bt, width: bw, height: bh }}
    />
  );
}

export default function App() {
  return (
    <div style={{ position: "absolute", left: 0, top: 0, width: 684, height: 1100, background: "#fff", overflow: "hidden" }}>
      {PANELS.map((p) => (
        <PanelChart key={p.key} cfg={p} />
      ))}
    </div>
  );
}
